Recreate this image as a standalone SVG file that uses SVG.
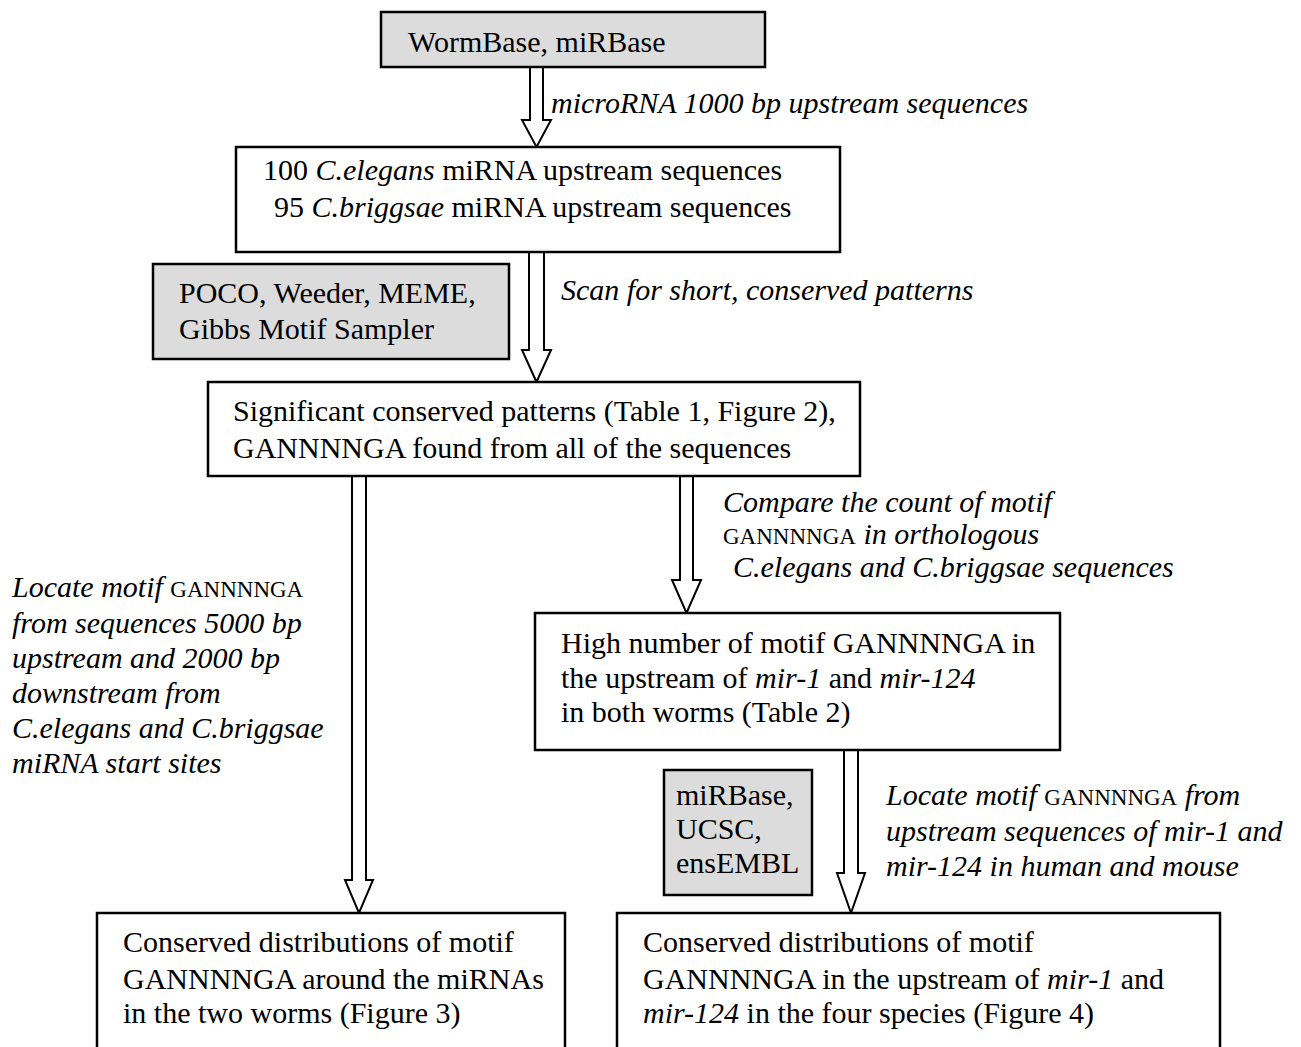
<svg xmlns="http://www.w3.org/2000/svg" width="1301" height="1047" viewBox="0 0 1301 1047">
<style>
.box{fill:#fff;stroke:#000;stroke-width:2.5}
.gray{fill:#dcdcdc;stroke:#000;stroke-width:2.5}
.arr{fill:#fff;stroke:#000;stroke-width:2}
text{font-family:"Liberation Serif","Times New Roman",serif;font-size:30px;fill:#000}
.it{font-style:italic}
.g{font-style:normal;font-size:23px}
</style>
<rect width="1301" height="1047" fill="#fff"/>
<g id="connectors">
<path class="arr" d="M530,67 V120 H522 L536.5,147 L551,120 H543 V67"/>
<path class="arr" d="M529,252 V350 H522 L536.5,382 L551,350 H544 V252"/>
<path class="arr" d="M352,476 V880 H345 L359,913 L373,880 H366 V476"/>
<path class="arr" d="M680,476 V580 H672 L686.5,613 L701,580 H693 V476"/>
<path class="arr" d="M844,750 V873 H837 L851,913 L865,873 H858 V750"/>
<text class="it" x="551" y="113">microRNA 1000 bp upstream sequences</text>
<text class="it" x="561" y="300">Scan for short, conserved patterns</text>
<text class="it" x="12" y="597">Locate  motif <tspan class="g" font-size="25">GANNNNGA</tspan></text>
<text class="it" x="12" y="633">from sequences 5000 bp</text>
<text class="it" x="12" y="668">upstream and 2000 bp</text>
<text class="it" x="12" y="703">downstream from</text>
<text class="it" x="12" y="738">C.elegans and C.briggsae</text>
<text class="it" x="12" y="773">miRNA start sites</text>
<text class="it" x="723" y="512">Compare the count of motif</text>
<text x="723" y="544"><tspan class="g" font-size="22">GANNNNGA</tspan><tspan class="it"> in orthologous</tspan></text>
<text class="it" x="733" y="577">C.elegans and C.briggsae sequences</text>
<text class="it" x="886" y="805">Locate motif <tspan class="g">GANNNNGA</tspan> from</text>
<text class="it" x="886" y="841">upstream sequences of mir-1 and</text>
<text class="it" x="886" y="876">mir-124 in human and mouse</text>
</g>
<g id="n1"><rect class="gray" x="381" y="12" width="384" height="55"/>
<text x="408" y="52">WormBase, miRBase</text></g>
<g id="n2"><rect class="box" x="236" y="147" width="604" height="105"/>
<text x="263" y="180">100 <tspan class="it">C.elegans</tspan> miRNA upstream sequences</text>
<text x="274" y="217">95 <tspan class="it">C.briggsae</tspan> miRNA upstream sequences</text></g>
<g id="n3"><rect class="gray" x="153" y="264" width="356" height="95"/>
<text x="179" y="303">POCO, Weeder, MEME,</text>
<text x="179" y="339">Gibbs Motif Sampler</text></g>
<g id="n4"><rect class="box" x="208" y="382" width="652" height="94"/>
<text x="233" y="421">Significant conserved patterns (Table 1, Figure 2),</text>
<text x="233" y="458">GANNNNGA found from all of the sequences</text></g>
<g id="n5"><rect class="box" x="535" y="613" width="525" height="137"/>
<text x="561" y="653">High number of motif GANNNNGA in</text>
<text x="561" y="688">the upstream of <tspan class="it">mir-1</tspan> and <tspan class="it">mir-124</tspan></text>
<text x="561" y="722">in both worms (Table 2)</text></g>
<g id="n6"><rect class="gray" x="664" y="770" width="148" height="125"/>
<text x="676" y="805">miRBase,</text>
<text x="676" y="839">UCSC,</text>
<text x="676" y="873">ensEMBL</text></g>
<g id="n7"><rect class="box" x="97" y="913" width="468" height="150"/>
<text x="123" y="952">Conserved distributions of motif</text>
<text x="123" y="989">GANNNNGA around the miRNAs</text>
<text x="123" y="1023">in the two worms (Figure 3)</text></g>
<g id="n8"><rect class="box" x="617" y="913" width="603" height="150"/>
<text x="643" y="952">Conserved distributions of motif</text>
<text x="643" y="989">GANNNNGA in the upstream of <tspan class="it">mir-1</tspan> and</text>
<text x="643" y="1023"><tspan class="it">mir-124</tspan> in the four species (Figure 4)</text></g>
</svg>
